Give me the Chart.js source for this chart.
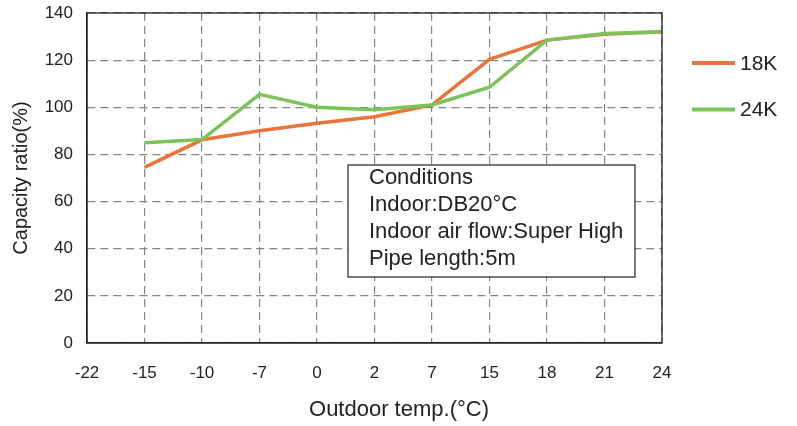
<!DOCTYPE html>
<html>
<head>
<meta charset="utf-8">
<script src="https://cdn.jsdelivr.net/npm/chart.js@4/dist/chart.umd.min.js"></script>
<style>
  html, body { margin: 0; padding: 0; background: #fff; }
  #wrap { width: 797px; height: 426px; }
</style>
</head>
<body>
<div id="wrap"><canvas id="mycanvas"></canvas></div>
<script>
var temps = ["-22", "-15", "-10", "-7", "0", "2", "7", "15", "18", "21", "24"];
var cap18K = [null, 74.5, 86.2, 90, 93.2, 96, 101, 120.3, 128.5, 131, 132];
var cap24K = [null, 85, 86.3, 105.5, 100, 99, 101, 108.5, 128.5, 131.3, 132];
var conditions = ["Conditions", "Indoor:DB20\u00b0C", "Indoor air flow:Super High", "Pipe length:5m"];
var xTitle = "Outdoor temp.(\u00b0C)";

var FONT = "'Liberation Sans', Arial, sans-serif";
var gridColor = "#858585";

// legend on the right + conditions box + full frame + x title
var extras = {
    id: "extras",
    afterDraw: function(chart) {
        var ctx = chart.ctx;
        var a = chart.chartArea;
        ctx.save();
        ctx.strokeStyle = "#222";
        ctx.lineWidth = 1.3;
        ctx.strokeRect(a.left, a.top, a.right - a.left, a.bottom - a.top);

        // conditions box
        var bx = 348, by = 165, bw = 287, bh = 112;
        ctx.fillStyle = "#fff";
        ctx.fillRect(bx, by, bw, bh);
        ctx.strokeStyle = "#222";
        ctx.lineWidth = 1.2;
        ctx.strokeRect(bx, by, bw, bh);
        ctx.fillStyle = "#222";
        ctx.font = "22px " + FONT;
        ctx.textBaseline = "middle";
        ctx.textAlign = "left";
        for (var i = 0; i < conditions.length; i++) {
            ctx.fillText(conditions[i], 369, 178 + i * 27);
        }

        // x axis title
        ctx.textAlign = "center";
        ctx.font = "22px " + FONT;
        ctx.fillText(xTitle, 399, 410);

        // legend
        ctx.textAlign = "left";
        var ds = chart.data.datasets;
        for (var j = 0; j < ds.length; j++) {
            var y = 63 + j * 46.5;
            ctx.strokeStyle = ds[j].borderColor;
            ctx.lineWidth = 4;
            ctx.beginPath();
            ctx.moveTo(692, y);
            ctx.lineTo(735, y);
            ctx.stroke();
            ctx.fillStyle = "#222";
            ctx.font = "21px " + FONT;
            ctx.fillText(ds[j].label, 740, y + 1);
        }
        ctx.restore();
    }
};

var chartdata = {
    labels: temps,
    datasets: [
        {
            label: "18K",
            data: cap18K,
            order: 1,
            borderColor: "#e8763a",
            backgroundColor: "#e8763a",
            borderWidth: 3.5,
            pointRadius: 0,
            fill: false,
            lineTension: 0
        },
        {
            label: "24K",
            data: cap24K,
            order: 0,
            borderColor: "#7cc35a",
            backgroundColor: "#7cc35a",
            borderWidth: 3.5,
            pointRadius: 0,
            fill: false,
            lineTension: 0
        }
    ]
};

var ctx = document.getElementById("mycanvas");
var LineGraph = new Chart(ctx, {
    type: "line",
    data: chartdata,
    plugins: [extras],
    options: {
        responsive: true,
        maintainAspectRatio: false,
        animation: false,
        layout: { padding: { top: 13, right: 135, bottom: 0, left: 0 } },
        plugins: { legend: { display: false }, tooltip: { enabled: false } },
        scales: {
            x: {
                offset: false,
                afterFit: function(scale) { scale.height = 83; },
                grid: { color: gridColor, lineWidth: 1.2, drawTicks: false },
                border: { display: true, color: "#222", width: 1.3, dash: [8, 5] },
                ticks: { color: "#222", padding: 20, font: { family: FONT, size: 17 }, maxRotation: 0, autoSkip: false }
            },
            y: {
                min: 0,
                max: 140,
                afterFit: function(scale) {
                    scale.width = 87;
                    scale.paddingTop = 0;
                    scale.paddingBottom = 0;
                },
                grid: { color: gridColor, lineWidth: 1.2, drawTicks: false },
                border: { display: true, color: "#222", width: 1.3, dash: [8, 5] },
                ticks: { stepSize: 20, color: "#222", padding: 14, font: { family: FONT, size: 17 } },
                title: { display: true, text: "Capacity ratio(%)", color: "#222", font: { family: FONT, size: 20 }, padding: { top: 9, bottom: 0 } }
            }
        }
    }
});
</script>
</body>
</html>
